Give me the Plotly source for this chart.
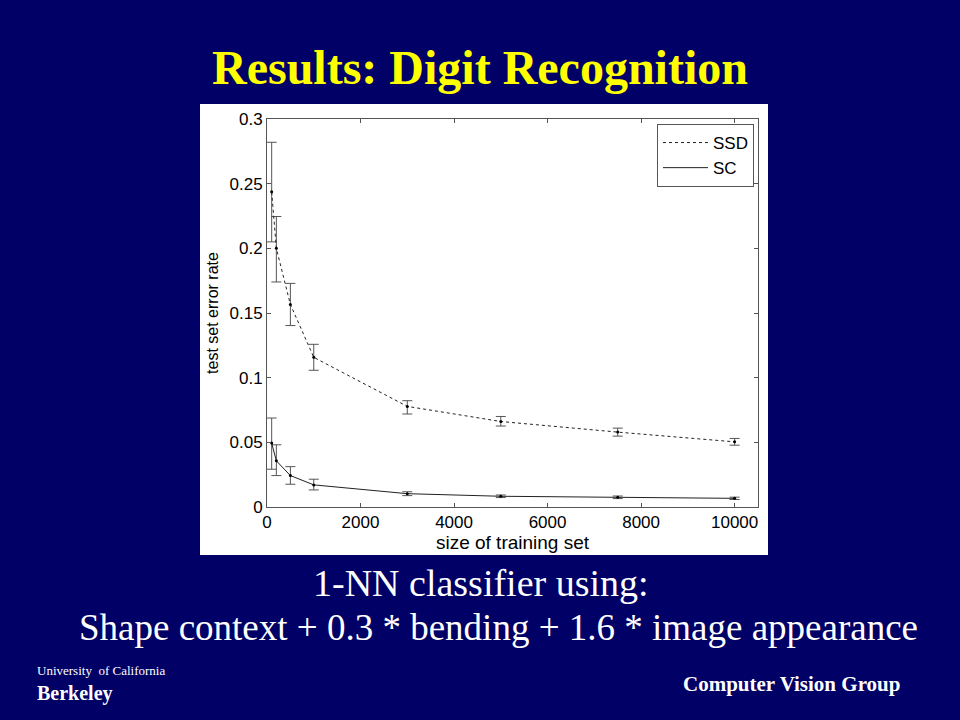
import plotly.graph_objects as go

# ---- data ----
train_sizes = [100, 200, 500, 1000, 3000, 5000, 7500, 10000]

ssd_err = [0.2437, 0.200, 0.1566, 0.1157, 0.0778, 0.0661, 0.0579, 0.0504]
ssd_hi = [0.282, 0.2246, 0.1729, 0.1258, 0.0822, 0.0700, 0.0610, 0.0530]
ssd_lo = [0.205, 0.174, 0.1403, 0.1057, 0.0719, 0.0626, 0.0548, 0.0478]

sc_err = [0.0494, 0.0357, 0.0243, 0.0171, 0.0103, 0.0083, 0.0075, 0.0067]
sc_hi = [0.0688, 0.0481, 0.0312, 0.0215, 0.0118, 0.0093, 0.0085, 0.0076]
sc_lo = [0.0292, 0.0243, 0.0176, 0.0132, 0.0088, 0.0073, 0.0065, 0.0058]

x_ticks = [0, 2000, 4000, 6000, 8000, 10000]
x_tick_text = ["0", "2000", "4000", "6000", "8000", "10000"]
y_ticks = [0, 0.05, 0.1, 0.15, 0.2, 0.25, 0.3]
y_tick_text = ["0", "0.05", "0.1", "0.15", "0.2", "0.25", "0.3"]

title_text = "Results: Digit Recognition"
caption1 = "1-NN classifier using:"
caption2 = "Shape context + 0.3 * bending + 1.6 * image appearance"

# ---- figure ----
W, H = 960, 720
L, R, T, B = 267, 758, 119, 507
pw, ph = R - L, B - T


def px(xp):
    return (xp - L) / pw


def py(yp):
    return (B - yp) / ph


fig = go.Figure()

series = [("SSD", ssd_err, ssd_hi, ssd_lo, "dot"), ("SC", sc_err, sc_hi, sc_lo, "solid")]
for name, vals, hi, lo, dash in series:
    fig.add_trace(go.Scatter(
        x=train_sizes, y=vals, name=name, mode="lines",
        line=dict(color="#222222", width=1, dash=dash),
        error_y=dict(type="data", symmetric=False,
                     array=[h - v for h, v in zip(hi, vals)],
                     arrayminus=[v - l for v, l in zip(vals, lo)],
                     color="#555555", thickness=1, width=5),
    ))
for name, vals, hi, lo, dash in series:
    fig.add_trace(go.Scatter(
        x=train_sizes, y=vals, mode="markers", showlegend=False,
        marker=dict(color="black", size=3), hoverinfo="skip",
    ))

axis_font = dict(family="Liberation Sans, Arial, sans-serif", size=17, color="black")
serif = "Liberation Serif, Times New Roman, serif"

fig.update_layout(
    width=W, height=H,
    margin=dict(l=L, r=W - R, t=T, b=H - B, pad=0),
    paper_bgcolor="#000066",
    plot_bgcolor="white",
    showlegend=True,
    legend=dict(
        x=px(754), y=py(124), xanchor="right", yanchor="top",
        bgcolor="white", bordercolor="#555555", borderwidth=1,
        font=axis_font, tracegroupgap=0, itemwidth=45,
    ),
    xaxis=dict(
        range=[0, 10500], tickvals=x_ticks, ticktext=x_tick_text, ticks="inside", ticklen=4,
        mirror="allticks", showline=True, linecolor="#555555", linewidth=1,
        showgrid=False, zeroline=False, tickfont=axis_font, tickcolor="#555555",
        title=dict(text="size of training set",
                   font=dict(family="Liberation Sans, Arial, sans-serif", size=19, color="black"),
                   standoff=0),
    ),
    yaxis=dict(
        range=[0, 0.3], tickvals=y_ticks, ticktext=y_tick_text, ticks="inside",
        ticklen=4, mirror="allticks", showline=True, linecolor="#555555",
        linewidth=1, showgrid=False, zeroline=False, tickfont=axis_font,
        tickcolor="#555555",
        title=dict(text="test set error rate",
                   font=dict(family="Liberation Sans, Arial, sans-serif", size=16, color="black"),
                   standoff=6),
    ),
    shapes=[
        dict(type="rect", xref="paper", yref="paper", layer="below",
             x0=px(200), x1=px(768), y0=py(555), y1=py(104),
             fillcolor="white", line=dict(width=0)),
    ],
    annotations=[
        dict(text="<b>" + title_text + "</b>", xref="paper", yref="paper",
             x=px(480), y=py(67), xanchor="center", yanchor="middle",
             showarrow=False, font=dict(family=serif, size=48, color="#ffff00")),
        dict(text=caption1, xref="paper", yref="paper",
             x=px(481), y=py(583), xanchor="center", yanchor="middle",
             showarrow=False, font=dict(family=serif, size=38, color="white")),
        dict(text=caption2, xref="paper", yref="paper",
             x=px(498), y=py(627), xanchor="center", yanchor="middle",
             showarrow=False, font=dict(family=serif, size=37, color="white")),
        dict(text="University  of California", xref="paper", yref="paper",
             x=px(35), y=py(670), xanchor="left", yanchor="middle",
             showarrow=False, font=dict(family=serif, size=13, color="white")),
        dict(text="<b>Berkeley</b>", xref="paper", yref="paper",
             x=px(35), y=py(693), xanchor="left", yanchor="middle",
             showarrow=False, font=dict(family=serif, size=20, color="white")),
        dict(text="<b>Computer Vision Group</b>", xref="paper", yref="paper",
             x=px(791), y=py(684), xanchor="center", yanchor="middle",
             showarrow=False, font=dict(family=serif, size=21, color="white")),
    ],
)

fig.write_html(
    "out.html",
    config={"displayModeBar": False},
    post_script="document.body.style.margin='0';document.body.style.background='#000066';",
)
